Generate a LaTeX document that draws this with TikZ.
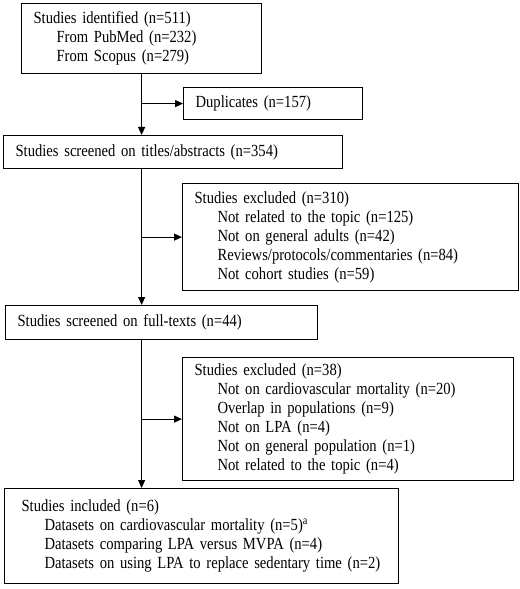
\documentclass[tikz,border=0pt]{standalone}
\usepackage{fontspec}
\setmainfont{Liberation Serif}[FakeStretch=0.86]
\usepackage{tikz}
\usetikzlibrary{arrows.meta}
\newcommand{\subl}[1]{\hspace*{23bp}\mbox{#1}}

\begin{document}
\begin{tikzpicture}[
  x=1bp, y=-1bp,
  font=\fontsize{17bp}{19bp}\selectfont,
  box/.style={draw, line width=1.2bp, anchor=north west, align=left, inner xsep=12bp, inner ysep=0pt},
  arr/.style={-{Triangle[length=8bp, width=7bp]}, line width=1.1bp},
]
\useasboundingbox (0,0) rectangle (520,589);

\node[box, text width=216bp, minimum height=70bp] (ident) at (21,3) {Studies identified (n=511)\\\subl{From PubMed (n=232)}\\\subl{From Scopus (n=279)}};
\node[box, text width=155bp, minimum height=32bp] (dup) at (183,87) {Duplicates (n=157)};
\node[box, text width=315bp, minimum height=33bp] (screen) at (3,135) {Studies screened on titles/abstracts (n=354)};
\node[box, text width=312bp, minimum height=107bp] (excla) at (182,183) {Studies excluded (n=310)\\\subl{Not related to the topic (n=125)}\\\subl{Not on general adults (n=42)}\\\subl{Reviews/protocols/commentaries (n=84)}\\\subl{Not cohort studies (n=59)}};
\node[box, text width=288bp, minimum height=34bp] (full) at (5,305) {Studies screened on full-texts (n=44)};
\node[box, text width=307bp, minimum height=123bp] (exclb) at (182,357) {Studies excluded (n=38)\\\subl{Not on cardiovascular mortality (n=20)}\\\subl{Overlap in populations (n=9)}\\\subl{Not on LPA (n=4)}\\\subl{Not on general population (n=1)}\\\subl{Not related to the topic (n=4)}};
\node[box, inner xsep=17bp, text width=360bp, minimum height=95bp] (incl) at (4,488) {Studies included (n=6)\\\subl{Datasets on cardiovascular mortality (n=5)\textsuperscript{a}}\\\subl{Datasets comparing LPA versus MVPA (n=4)}\\\subl{Datasets on using LPA to replace sedentary time (n=2)}};

\draw[arr] (ident.south) -- (ident.south |- screen.north);
\draw[arr] (ident.south |- dup.west) -- (dup.west);
\draw[arr] (screen.south -| ident.south) -- (ident.south |- full.north);
\draw[arr] (ident.south |- excla.west) -- (excla.west);
\draw[arr] (full.south -| ident.south) -- (ident.south |- incl.north);
\draw[arr] (ident.south |- exclb.west) -- (exclb.west);
\end{tikzpicture}
\end{document}
